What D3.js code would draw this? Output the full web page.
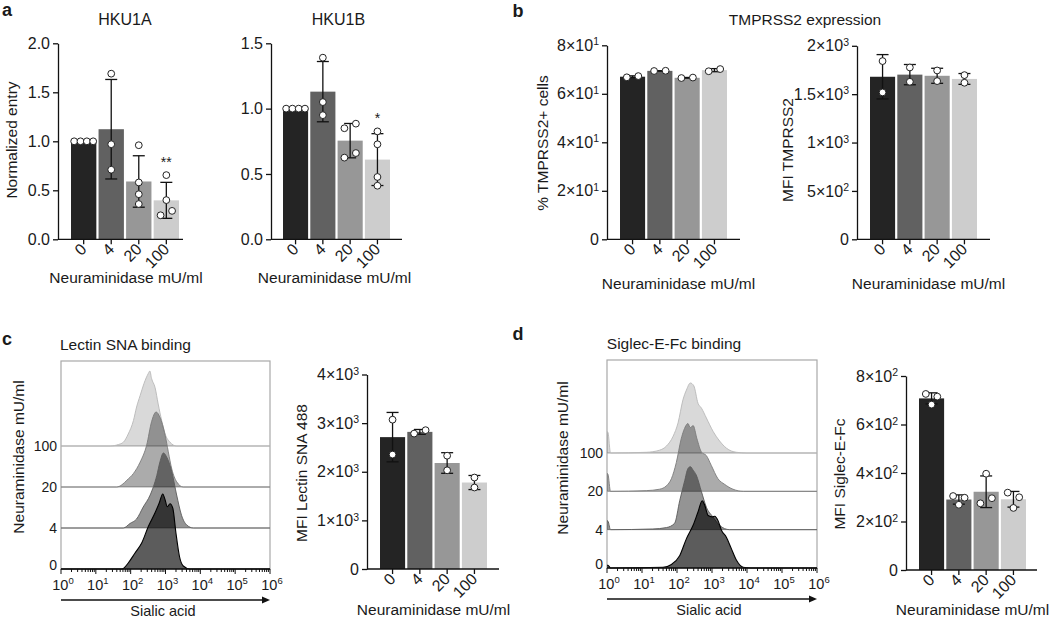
<!DOCTYPE html>
<html><head><meta charset="utf-8">
<script src="https://cdn.jsdelivr.net/npm/d3@7"></script>
<style>
body{margin:0;background:#fff}
svg{display:block}
text{font-family:"Liberation Sans",Arial,Helvetica,sans-serif;fill:#1a1a1a}
</style>
</head><body>
<svg id="c" width="1050" height="619"></svg>
<script>
// ---------- data ----------
const doses = ["0", "4", "20", "100"];
const barColors = ["#242424", "#616161", "#979797", "#cdcdcd"];

const hku1aPoints = [[1, 1, 1, 1], [1.69, 0.97, 0.71], [0.96, 0.58, 0.46, 0.36], [0.655, 0.40, 0.245, 0.29]];
const hku1bPoints = [[1, 1, 1, 1], [1.39, 1.05, 0.95], [0.85, 0.885, 0.625, 0.66], [0.826, 0.727, 0.477, 0.41]];
const hku1aStars = ["", "", "", "**"];
const hku1bStars = ["", "", "", "*"];
const tmprssPctPoints = [[66.8, 67.3], [69.4, 69.5], [66.5, 66.7], [69.3, 70.2]];
const tmprssMfiPoints = [[1842, 1518], [1776, 1628], [1745, 1635], [1697, 1618]];
const snaMfiPoints = [[3071, 2353], [2785, 2855], [2330, 2030], [1881, 1676]];
const siglecMfiPoints = [[726, 715, 682], [305, 298, 269], [397, 275, 296], [319, 300, 256]];

const ticksHku1a = [0, 0.5, 1.0, 1.5, 2.0];
const ticksHku1b = [0, 0.5, 1.0, 1.5];
const ticksPct = [0, 20, 40, 60, 80];
const ticksTmprssMfi = [0, 500, 1000, 1500, 2000];
const ticksSna = [0, 1000, 2000, 3000, 4000];
const ticksSiglec = [0, 200, 400, 600, 800];
const logDecades = [0, 1, 2, 3, 4, 5, 6];

// histograms: [log10(fluorescence), % of mode]
const snaHist = {
  "100": [[0,0],[1.41,0],[1.65,2],[1.79,5],[1.93,16],[2.08,34],[2.17,52],[2.27,67],[2.38,83],[2.51,97],[2.55,100],[2.60,90],[2.70,78],[2.79,56],[2.89,34],[2.99,16],[3.13,5],[3.32,0],[6,0]],
  "20": [[0,0],[1.6,0],[1.75,3],[1.89,9],[2.08,18],[2.27,33],[2.46,56],[2.60,87],[2.73,100],[2.84,93],[2.99,69],[3.08,47],[3.18,24],[3.32,7],[3.51,0],[6,0]],
  "4": [[0,0],[1.79,0],[1.98,6],[2.17,12],[2.36,28],[2.56,44],[2.75,70],[2.84,88],[2.94,100],[3.03,95],[3.18,75],[3.32,44],[3.46,17],[3.61,4],[3.80,0],[6,0]],
  "0": [[0,0],[1.75,0],[1.93,8],[2.12,21],[2.32,35],[2.51,57],[2.70,75],[2.82,88],[2.92,100],[2.99,92],[3.05,83],[3.13,87],[3.21,81],[3.30,48],[3.40,17],[3.51,4],[3.70,0],[6,0]]
};
const siglecHist = {
  "100": [[0,31],[0.03,29],[0.1,0],[1.12,1],[1.5,4],[1.7,10],[1.89,24],[2.03,43],[2.17,76],[2.27,90],[2.38,100],[2.48,96],[2.6,71],[2.7,64],[2.84,50],[3.03,31],[3.22,17],[3.41,7],[3.7,1],[4.0,0],[6,0]],
  "20": [[0,26],[0.03,24],[0.1,0],[1.12,1],[1.5,3],[1.7,8],[1.84,18],[1.98,41],[2.12,75],[2.27,95],[2.31,97],[2.38,91],[2.46,94],[2.57,75],[2.7,56],[2.84,51],[2.98,37],[3.17,18],[3.36,10],[3.6,3],[3.9,0],[6,0]],
  "4": [[0,13],[0.03,12],[0.1,0],[1.31,1],[1.7,3],[1.93,9],[2.08,42],[2.22,70],[2.31,87],[2.38,90],[2.46,85],[2.55,78],[2.7,54],[2.84,32],[3.03,18],[3.22,6],[3.5,0],[6,0]],
  "0": [[0,4],[0.03,4],[0.1,0],[1.6,1],[1.84,5],[2.08,18],[2.27,42],[2.46,61],[2.6,80],[2.72,96],[2.79,90],[2.89,75],[3.01,73],[3.08,74],[3.17,68],[3.27,54],[3.41,44],[3.55,28],[3.7,11],[3.89,1],[4.1,0],[6,0]]
};
const histStyle = {
  "100": {op: 0.15, stroke: "#b8b8b8"},
  "20": {op: 0.33, stroke: "#7a7a7a"},
  "4": {op: 0.42, stroke: "#5a5a5a"},
  "0": {op: 0.64, stroke: "#000"}
};

// ---------- helpers ----------
const svg = d3.select("#c");
const FS = 15.5;
const TFS = 16;

function sciParts(v) {
  if (v === 0) return ["0", null];
  const e = Math.floor(Math.log10(v) + 1e-9);
  const m = +(v / Math.pow(10, e)).toFixed(2);
  return [m + "×10", String(e)];
}
function decParts(v) { return [d3.format(".1f")(v), null]; }

function writeLabel(sel, parts, supSize, supDy) {
  sel.text(null);
  sel.append("tspan").text(parts[0]);
  if (parts[1] != null) sel.append("tspan").attr("dy", supDy).attr("font-size", supSize).text(parts[1]);
}

function layoutDots(vals, y, bw) {
  const pts = vals.map((v, i) => ({v, i, py: y(v), dx: 0}));
  const sorted = pts.slice().sort((a, b) => a.py - b.py);
  const groups = [];
  let cur = [sorted[0]];
  for (let k = 1; k < sorted.length; k++) {
    if (sorted[k].py - sorted[k - 1].py < 6.5) cur.push(sorted[k]);
    else { groups.push(cur); cur = [sorted[k]]; }
  }
  groups.push(cur);
  groups.forEach(gr => {
    gr.sort((a, b) => a.i - b.i);
    const n = gr.length;
    const sp = n > 1 ? Math.min(11.5, bw * 0.75 / (n - 1)) : 0;
    gr.forEach((p, j) => p.dx = (j - (n - 1) / 2) * sp);
  });
  return pts;
}

function vText(x, cy, txt, size) {
  svg.append("text").attr("transform", `translate(${x},${cy}) rotate(-90)`)
    .attr("text-anchor", "middle").attr("font-size", size || FS).text(txt);
}
function hText(x, y, txt, size, weight) {
  svg.append("text").attr("x", x).attr("y", y).attr("text-anchor", "middle")
    .attr("font-size", size || FS).attr("font-weight", weight || null).text(txt);
}

function barChart(o) {
  const g = svg.append("g");
  const x = d3.scaleBand().domain(doses).range(o.bars).paddingInner(0.08);
  const y = d3.scaleLinear().domain([0, o.yMax]).range(o.yRange);
  const stats = o.points.map(p => ({m: d3.mean(p), s: d3.deviation(p)}));
  const bw = x.bandwidth();

  g.selectAll("rect.bar").data(doses).join("rect").attr("class", "bar")
    .attr("x", d => x(d)).attr("width", bw)
    .attr("y", (d, i) => y(stats[i].m))
    .attr("height", (d, i) => y(0) - y(stats[i].m))
    .attr("fill", (d, i) => barColors[i]);

  doses.forEach((d, i) => {
    const cx = x(d) + bw / 2;
    const t = y(stats[i].m + stats[i].s), b = y(stats[i].m - stats[i].s);
    const eg = g.append("g").attr("stroke", "#111").attr("stroke-width", 1.3);
    eg.append("line").attr("x1", cx).attr("x2", cx).attr("y1", t).attr("y2", b);
    eg.append("line").attr("x1", cx - 6).attr("x2", cx + 6).attr("y1", t).attr("y2", t);
    eg.append("line").attr("x1", cx - 6).attr("x2", cx + 6).attr("y1", b).attr("y2", b);
    const pts = layoutDots(o.points[i], y, bw);
    g.selectAll(null).data(pts).join("circle")
      .attr("cx", p => cx + p.dx).attr("cy", p => p.py).attr("r", 3.4)
      .attr("fill", "#fff").attr("stroke", "#222").attr("stroke-width", 1);
    if (o.stars && o.stars[i]) {
      const topY = Math.min(t, d3.min(pts, p => p.py) - 3.4);
      g.append("text").attr("x", cx).attr("y", topY - 5).attr("text-anchor", "middle")
        .attr("font-size", 14).text(o.stars[i]);
    }
  });

  const ya = g.append("g").attr("transform", `translate(${o.axisX},0)`)
    .call(d3.axisLeft(y).tickValues(o.ticks).tickSize(5).tickSizeOuter(0).tickPadding(3));
  ya.attr("font-size", TFS).attr("font-family", null).attr("color", "#111");
  ya.selectAll("path,line").attr("stroke-width", 1.3);
  ya.selectAll("text").each(function(v) { writeLabel(d3.select(this), o.fmt(v), 10.5, -5.5); });

  const xa = g.append("g").attr("transform", `translate(0,${o.yRange[0]})`)
    .call(d3.axisBottom(x).tickSize(5).tickSizeOuter(0));
  xa.select(".domain").remove();
  xa.attr("font-size", TFS).attr("font-family", null).attr("color", "#111");
  xa.selectAll("line").attr("stroke-width", 1.3);
  xa.selectAll("text").attr("x", 0).attr("y", 0).attr("dy", "0.35em")
    .attr("transform", "translate(0,7) rotate(-45)").attr("text-anchor", "end");
  g.append("line").attr("x1", o.axisX).attr("x2", o.axisEnd)
    .attr("y1", o.yRange[0]).attr("y2", o.yRange[0]).attr("stroke", "#111").attr("stroke-width", 1.3);

  const midBars = (o.bars[0] + o.bars[1]) / 2;
  hText(midBars + (o.xtDx || 0), o.xtY, "Neuraminidase mU/ml");
  if (o.ytitle) vText(o.ytX, o.ytY, o.ytitle);
  if (o.title) hText(o.titleX, o.titleY, o.title, 16);
}

function histPanel(o) {
  const g = svg.append("g");
  const x = d3.scaleLog().domain([1, 1e6]).range([o.left, o.right]);
  const yb = d3.scalePoint().domain(doses).range([o.bottom, o.topBase]);
  const h = d3.scaleLinear().domain([0, 100]).range([0, o.hMax]);

  g.append("rect").attr("x", o.left).attr("y", o.top).attr("width", o.right - o.left)
    .attr("height", o.bottom - o.top).attr("fill", "none").attr("stroke", "#a8a8a8").attr("stroke-width", 1.2);
  doses.slice(1).forEach(d => {
    g.append("line").attr("x1", o.left).attr("x2", o.right).attr("y1", yb(d)).attr("y2", yb(d))
      .attr("stroke", "#a8a8a8").attr("stroke-width", 1);
  });

  ["100", "20", "4", "0"].forEach(d => {
    const base = yb(d);
    const data = o.hists[d];
    const area = d3.area().x(p => x(Math.pow(10, p[0]))).y0(base).y1(p => base - h(p[1])).curve(d3.curveMonotoneX);
    const line = d3.line().x(p => x(Math.pow(10, p[0]))).y(p => base - h(p[1])).curve(d3.curveMonotoneX);
    g.append("path").attr("d", area(data)).attr("fill", "#000").attr("fill-opacity", histStyle[d].op);
    g.append("path").attr("d", line(data)).attr("fill", "none").attr("stroke", histStyle[d].stroke)
      .attr("stroke-width", d === "0" ? 1.1 : 0.9);
  });

  doses.forEach(d => {
    g.append("text").attr("x", o.left - 4).attr("y", yb(d)).attr("dy", d === "0" ? "0.1em" : "0.35em")
      .attr("text-anchor", "end").attr("font-size", 14).text(d);
  });

  g.append("line").attr("x1", o.left).attr("x2", o.right).attr("y1", o.bottom).attr("y2", o.bottom)
    .attr("stroke", "#111").attr("stroke-width", 1.3);
  const tickVals = [];
  logDecades.slice(0, -1).forEach(e => { for (let k = 1; k <= 9; k++) tickVals.push({v: k * Math.pow(10, e), major: k === 1}); });
  tickVals.push({v: Math.pow(10, logDecades[logDecades.length - 1]), major: true});
  g.selectAll(null).data(tickVals).join("line")
    .attr("x1", t => x(t.v)).attr("x2", t => x(t.v))
    .attr("y1", o.bottom).attr("y2", t => o.bottom + (t.major ? 5 : 3))
    .attr("stroke", "#111").attr("stroke-width", 1);
  logDecades.forEach(e => {
    const t = g.append("text").attr("x", x(Math.pow(10, e)) + 2).attr("y", o.bottom + 21)
      .attr("text-anchor", "middle").attr("font-size", 14.5);
    writeLabel(t, ["10", String(e)], 9.5, -6);
  });
  const ay = o.bottom + 31;
  g.append("line").attr("x1", o.left).attr("x2", o.right - 5).attr("y1", ay).attr("y2", ay)
    .attr("stroke", "#111").attr("stroke-width", 1.3);
  g.append("path").attr("d", `M${o.right},${ay} L${o.right - 8},${ay - 3.5} L${o.right - 8},${ay + 3.5} Z`).attr("fill", "#111");
  hText(o.xtX, o.bottom + 47, "Sialic acid", 14.5);
  vText(o.ytX, o.ytY, "Neuraminidase mU/ml");
  hText(o.titleX, o.titleY, o.title, 15.5);
}

// ---------- panels ----------
barChart({points: hku1aPoints, yMax: 2, yRange: [239.3, 43.3], ticks: ticksHku1a, fmt: decParts,
  axisX: 58, bars: [71, 179], axisEnd: 183, xtY: 283, xtDx: 1, stars: hku1aStars,
  ytitle: "Normalized entry", ytX: 17, ytY: 140, title: "HKU1A", titleX: 125, titleY: 25});
barChart({points: hku1bPoints, yMax: 1.5, yRange: [239.3, 43.3], ticks: ticksHku1b, fmt: decParts,
  axisX: 271, bars: [283, 390], axisEnd: 402, xtY: 283, xtDx: -2, stars: hku1bStars,
  title: "HKU1B", titleX: 338.5, titleY: 25});
barChart({points: tmprssPctPoints, yMax: 80, yRange: [239.3, 45.3], ticks: ticksPct, fmt: sciParts,
  axisX: 607, bars: [620, 727], axisEnd: 740, xtY: 289, xtDx: 5,
  ytitle: "% TMPRSS2+ cells", ytX: 548, ytY: 143});
barChart({points: tmprssMfiPoints, yMax: 2000, yRange: [239.3, 45.8], ticks: ticksTmprssMfi, fmt: sciParts,
  axisX: 857, bars: [870, 977], axisEnd: 990, xtY: 289, xtDx: 5,
  ytitle: "MFI TMPRSS2", ytX: 793, ytY: 150});
barChart({points: snaMfiPoints, yMax: 4000, yRange: [569, 374.5], ticks: ticksSna, fmt: sciParts,
  axisX: 367, bars: [380, 487], axisEnd: 499, xtY: 615, xtDx: 0,
  ytitle: "MFI Lectin SNA 488", ytX: 307, ytY: 473});
barChart({points: siglecMfiPoints, yMax: 800, yRange: [570, 376], ticks: ticksSiglec, fmt: sciParts,
  axisX: 906, bars: [919, 1026], axisEnd: 1037, xtY: 615, xtDx: 0,
  ytitle: "MFI Siglec-E-Fc", ytX: 845, ytY: 474});

hText(805, 25, "TMPRSS2 expression", 15.5);

histPanel({left: 61, right: 270, top: 361, bottom: 569, topBase: 446, hMax: 75, hists: snaHist,
  xtX: 163, ytX: 23.5, ytY: 457, title: "Lectin SNA binding", titleX: 125.5, titleY: 350});
histPanel({left: 607, right: 817, top: 360, bottom: 568, topBase: 453, hMax: 70, hists: siglecHist,
  xtX: 709, ytX: 568, ytY: 458, title: "Siglec-E-Fc binding", titleX: 674, titleY: 349});

[["a", 7, 16], ["b", 518, 17], ["c", 7, 345], ["d", 518, 340]].forEach(l => hText(l[1], l[2], l[0], 18, "bold"));
</script>
</body></html>
